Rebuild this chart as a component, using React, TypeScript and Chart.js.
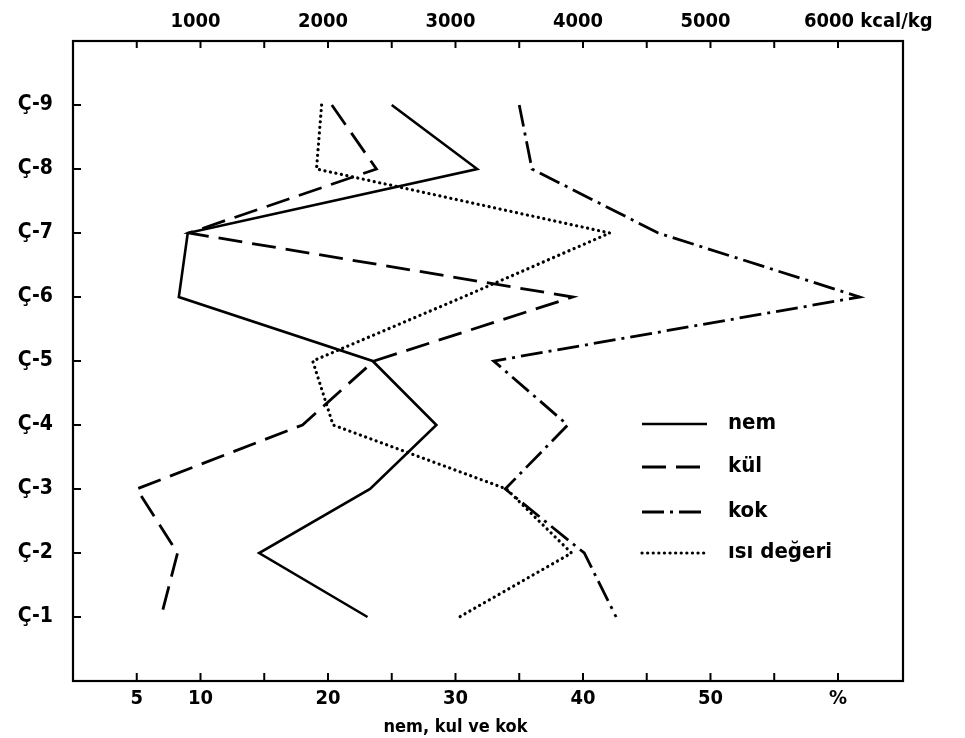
import React, { useEffect, useRef } from 'react';
import { Chart, registerables } from 'chart.js';

Chart.register(...registerables);

// ---- data ----
const categories = ['Ç-9', 'Ç-8', 'Ç-7', 'Ç-6', 'Ç-5', 'Ç-4', 'Ç-3', 'Ç-2', 'Ç-1'];
const levels = [9, 8, 7, 6, 5, 4, 3, 2, 1];
const nem = [25.0, 31.7, 9.0, 8.3, 23.5, 28.5, 23.3, 14.6, 23.1];
const kul = [20.3, 23.8, 9.1, 39.2, 23.6, 18.0, 5.0, 8.2, 6.9];
const kok = [35.0, 36.0, 45.9, 61.7, 33.0, 38.8, 33.9, 40.1, 42.6];
const isiDegeri = [1950, 1910, 4210, 3060, 1880, 2040, 3400, 3910, 3030];

const seriesNames = ['nem', 'kül', 'kok', 'ısı değeri'];
const bottomLabelValues = [5, 10, 20, 30, 40, 50];
const bottomUnitLabel = '%';
const topLabelValues = [1000, 2000, 3000, 4000, 5000];
const topLastValue = 6000;
const topLastLabel = '6000 kcal/kg';
const xTitle = 'nem, kul ve kok';

const FONT = "'Liberation Sans Narrow', 'DejaVu Sans Condensed', 'Liberation Sans', sans-serif";

const pts = (vals: number[]) => vals.map((v, i) => ({ x: v, y: levels[i] }));

const framePlugin = {
  id: 'framePlugin',
  afterDraw(chart: any) {
    const { ctx, chartArea: a, scales } = chart;
    ctx.save();
    ctx.strokeStyle = '#000';
    ctx.lineWidth = 2.2;
    ctx.setLineDash([]);
    ctx.strokeRect(a.left, a.top, a.right - a.left, a.bottom - a.top);
    ctx.lineWidth = 2;
    const line = (x1: number, y1: number, x2: number, y2: number) => {
      ctx.beginPath();
      ctx.moveTo(x1, y1);
      ctx.lineTo(x2, y2);
      ctx.stroke();
    };
    for (let v = 5; v <= 60; v += 5) {
      const px = scales.x.getPixelForValue(v);
      line(px, a.bottom, px, a.bottom - 8);
    }
    for (let v = 500; v <= 6000; v += 500) {
      const px = scales.x2.getPixelForValue(v);
      line(px, a.top, px, a.top + 7);
    }
    levels.forEach((lv) => {
      const py = scales.y.getPixelForValue(lv);
      line(a.left, py, a.left + 8, py);
    });

    // top axis labels
    ctx.fillStyle = '#000';
    ctx.font = `bold 20px ${FONT}`;
    ctx.textBaseline = 'alphabetic';
    ctx.textAlign = 'center';
    topLabelValues.forEach((v) => {
      ctx.fillText(String(v), scales.x2.getPixelForValue(v) - 5, 27);
    });
    ctx.textAlign = 'left';
    ctx.fillText(topLastLabel, scales.x2.getPixelForValue(topLastValue) - 34, 27);

    // bottom axis title
    ctx.font = `bold 18px ${FONT}`;
    ctx.textAlign = 'center';
    ctx.fillText(xTitle, scales.x.getPixelForValue(30), 732);

    // legend
    const lx1 = 642, lx2 = 707, tx = 728;
    const rows = [424, 467, 512, 553];
    chart.data.datasets.forEach((ds: any, i: number) => {
      const y = rows[i];
      ctx.strokeStyle = '#000';
      ctx.lineWidth = ds.borderWidth;
      ctx.lineCap = ds.borderCapStyle || 'butt';
      ctx.setLineDash(ds.borderDash || []);
      line(lx1, y, lx2, y);
      ctx.setLineDash([]);
      ctx.font = `bold 22px ${FONT}`;
      ctx.textAlign = 'left';
      ctx.textBaseline = 'middle';
      ctx.fillText(seriesNames[i], tx, y - 1);
    });
    ctx.restore();
  },
};

export default function App() {
  const ref = useRef<HTMLCanvasElement | null>(null);
  useEffect(() => {
    if (!ref.current) return;
    const chart = new Chart(ref.current, {
      type: 'line',
      data: {
        datasets: [
          {
            label: seriesNames[0],
            data: pts(nem),
            borderColor: '#000',
            borderWidth: 2.6,
            pointRadius: 0,
            xAxisID: 'x',
            yAxisID: 'y',
          },
          {
            label: seriesNames[1],
            data: pts(kul),
            borderColor: '#000',
            borderWidth: 2.8,
            borderDash: [24, 10],
            pointRadius: 0,
            xAxisID: 'x',
            yAxisID: 'y',
          },
          {
            label: seriesNames[2],
            data: pts(kok),
            borderColor: '#000',
            borderWidth: 2.8,
            borderDash: [22, 6, 3, 6],
            pointRadius: 0,
            xAxisID: 'x',
            yAxisID: 'y',
          },
          {
            label: seriesNames[3],
            data: pts(isiDegeri),
            borderColor: '#000',
            borderWidth: 3.2,
            borderDash: [0.1, 5.5],
            borderCapStyle: 'round',
            pointRadius: 0,
            xAxisID: 'x2',
            yAxisID: 'y',
          },
        ] as any,
      },
      options: {
        animation: false,
        responsive: false,
        devicePixelRatio: 1,
        layout: { padding: { left: 0, right: 62, top: 0, bottom: 0 } },
        plugins: { legend: { display: false }, tooltip: { enabled: false } },
        scales: {
          x: {
            type: 'linear',
            position: 'bottom',
            min: 0,
            max: 65.1,
            afterFit: (s: any) => { s.height = 57; },
            grid: { display: false, drawTicks: false },
            border: { display: false },
            ticks: {
              stepSize: 5,
              autoSkip: false,
              maxRotation: 0,
              padding: 6,
              color: '#000',
              font: { family: FONT, size: 20, weight: 'bold' },
              callback: (v: any) => {
                const n = Number(v);
                if (bottomLabelValues.includes(n)) return String(n);
                if (n === 60) return bottomUnitLabel;
                return '';
              },
            },
          },
          x2: {
            type: 'linear',
            position: 'top',
            min: 0,
            max: 6510,
            afterFit: (s: any) => { s.height = 41; },
            grid: { display: false, drawTicks: false },
            border: { display: false },
            ticks: { display: false, stepSize: 500 },
          },
          y: {
            type: 'linear',
            min: 0,
            max: 10,
            afterFit: (s: any) => { s.width = 73; },
            grid: { display: false, drawTicks: false },
            border: { display: false },
            ticks: {
              stepSize: 1,
              autoSkip: false,
              padding: 20,
              color: '#000',
              font: { family: FONT, size: 21, weight: 'bold' },
              callback: (v: any) => {
                const n = Number(v);
                const idx = levels.indexOf(n);
                return idx >= 0 ? categories[idx] : '';
              },
            },
          },
        },
      } as any,
      plugins: [framePlugin],
    });
    return () => chart.destroy();
  }, []);
  return (
    <div style={{ position: 'absolute', left: 0, top: 0, width: 965, height: 738, background: '#fff' }}>
      <canvas ref={ref} width={965} height={738} style={{ display: 'block' }} />
    </div>
  );
}
